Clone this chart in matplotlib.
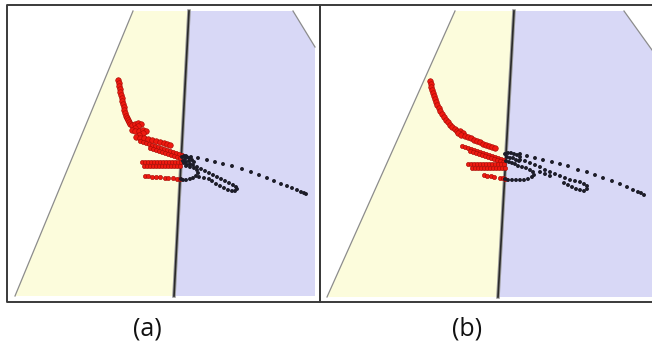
import matplotlib
matplotlib.use("Agg")
import matplotlib.pyplot as plt
from matplotlib.patches import Polygon

# panel captions
panel_labels = ["(a)", "(b)"]
label_pos = [(147, 329), (467, 329)]

# panel frames (x0, x1, y0, y1) in image pixels
frame_a = (7, 320, 5, 302)
frame_b = (320, 652, 5, 302)

# wall regions seen in each view
yellow_a = [(133, 11), (189, 11), (174, 296), (15, 296)]
lavender_a = [(189, 11), (293, 11), (315, 47), (315, 296), (174, 296)]
yellow_b = [(455, 11), (514, 11), (498, 297), (327, 297)]
lavender_b = [(514, 11), (624, 11), (652, 50), (652, 297), (498, 297)]

# ---------------- view (a) ----------------
red_a_upper_x = [118, 119, 119, 120, 120, 121, 122, 122, 123, 124, 124, 125, 126, 127, 128,
                 129, 130, 132, 135, 138, 141, 138, 135, 132, 135, 139, 143, 146, 143, 139,
                 136, 140, 144, 148, 152, 156, 160, 164, 167, 170]
red_a_upper_y = [80, 83, 86, 89, 92, 95, 98, 101, 104, 107, 110, 113, 116, 118, 120,
                 122, 124, 125, 124, 123, 124, 126, 128, 130, 131, 131, 130, 131, 133, 135,
                 137, 138, 138, 139, 140, 141, 142, 143, 144, 145]
red_a_diag_x = [140, 143, 146, 149, 152, 155, 158, 161, 164, 167, 170, 173, 176, 179, 182,
                150, 153, 156, 159, 162, 165, 168, 171, 174, 177, 180]
red_a_diag_y = [141, 142, 143, 144, 145, 146, 147, 148, 149, 150, 151, 152, 153, 154, 155,
                148, 149, 150, 151, 152, 153, 154, 155, 156, 157, 158]
red_a_rows_x = [142, 145, 148, 151, 154, 157, 160, 163, 166, 169, 172, 175, 178, 181,
                144, 147, 150, 153, 156, 159, 162, 165, 168, 171, 174, 177, 180]
red_a_rows_y = [162, 162, 162, 162, 162, 162, 162, 162, 162, 162, 162, 162, 162, 162,
                166, 166, 166, 166, 166, 166, 166, 166, 166, 166, 166, 166, 166]
red_a_bottom_x = [145, 148, 152, 156, 160, 165, 168, 173, 177, 180]
red_a_bottom_y = [176, 176, 177, 177, 177, 178, 178, 178, 179, 179]

black_a_far_x = [186, 191, 198, 207, 215, 223, 232, 242, 251, 259, 267, 274, 281, 287, 292,
                 297, 301, 304, 306]
black_a_far_y = [156, 157, 158, 160, 162, 164, 166, 169, 172, 175, 178, 181, 184, 186, 188,
                 190, 192, 193, 194]
black_a_loop_x = [182, 184, 187, 189, 185, 183, 186, 189, 192, 194, 190, 187, 184,
                  186, 190, 194, 197, 198, 196, 193, 190, 186, 183, 181,
                  193, 197, 201, 205, 209, 213, 217, 221, 225, 229, 233, 236, 237, 235,
                  232, 228, 224, 220, 216, 212, 199, 204, 209]
black_a_loop_y = [157, 156, 157, 158, 159, 161, 162, 161, 160, 162, 164, 165, 163,
                  166, 167, 168, 170, 173, 176, 178, 179, 180, 180, 179,
                  165, 167, 169, 171, 173, 175, 177, 179, 181, 183, 185, 187, 189, 191,
                  191, 190, 188, 186, 184, 181, 177, 178, 179]

# ---------------- view (b) ----------------
red_b_upper_x = [430, 431, 431, 432, 433, 434, 435, 436, 437, 439, 440, 442, 444, 446, 448,
                 450, 452, 455, 457, 460, 463, 458, 461, 465, 468, 471, 474, 477, 480, 483,
                 486, 489, 492, 495]
red_b_upper_y = [81, 84, 87, 90, 93, 96, 99, 102, 105, 108, 111, 114, 117, 120, 122,
                 125, 127, 129, 131, 131, 133, 133, 135, 136, 137, 138, 140, 141, 142, 144,
                 145, 146, 147, 148]
red_b_diag_x = [462, 465, 468, 471, 474, 477, 480, 483, 486, 489, 492, 495, 498, 501, 504,
                470, 473, 476, 479, 482, 485, 488, 491, 494, 497, 500, 503]
red_b_diag_y = [146, 147, 148, 149, 150, 151, 152, 153, 154, 155, 156, 157, 158, 159, 160,
                151, 152, 153, 154, 155, 156, 157, 158, 159, 160, 161, 162]
red_b_rows_x = [468, 471, 474, 477, 480, 483, 486, 489, 492, 495, 498, 501, 504,
                472, 475, 478, 481, 484, 487, 490, 493, 496, 499, 502, 505]
red_b_rows_y = [164, 164, 164, 164, 164, 164, 164, 164, 164, 164, 164, 164, 164,
                168, 168, 168, 168, 168, 168, 168, 168, 168, 168, 168, 168]
red_b_bottom_x = [484, 487, 491, 494, 500, 503, 505]
red_b_bottom_y = [175, 176, 176, 177, 178, 178, 179]

black_b_far_x = [520, 527, 535, 543, 552, 560, 568, 578, 587, 595, 603, 612, 620, 627, 633,
                 638, 641, 644]
black_b_far_y = [154, 156, 158, 160, 162, 164, 166, 170, 172, 175, 178, 181, 184, 187, 190,
                 192, 193, 195]
black_b_loop_x = [505, 508, 511, 514, 517, 520, 507, 510, 513, 516, 519, 506, 509, 512, 515,
                  518, 522, 526, 530, 533, 534, 532, 528, 524, 520, 516, 512, 508, 505,
                  520, 525, 530, 535, 540, 545, 550, 555, 560, 565, 570, 575, 580, 584,
                  587, 587, 584, 580, 576, 572, 568, 564, 540, 545, 550]
black_b_loop_y = [154, 153, 153, 154, 155, 157, 157, 158, 158, 160, 161, 161, 162, 163, 164,
                  166, 167, 168, 170, 172, 175, 177, 179, 180, 180, 180, 180, 180, 179,
                  160, 161, 163, 165, 167, 170, 172, 174, 176, 178, 180, 181, 182, 184,
                  186, 189, 191, 190, 189, 187, 185, 183, 172, 174, 176]

YELLOW = "#fcfcdc"
LAVENDER = "#d8d8f6"
RED = "#ee1a10"
DARK = "#1c1c28"


def draw_frame(ax, fr, right=True):
    x0, x1, y0, y1 = fr
    xs = [x1, x0, x0, x1] if not right else [x1, x0, x0, x1, x1]
    ys = [y0, y0, y1, y1] if not right else [y0, y0, y1, y1, y0]
    ax.plot(xs, ys, color="#3a3a3a", lw=1.4, zorder=10, solid_capstyle="butt")


def draw_walls(ax, yellow, lavender):
    ax.add_patch(Polygon(yellow, closed=True, fc=YELLOW, ec="none", zorder=1))
    ax.add_patch(Polygon(lavender, closed=True, fc=LAVENDER, ec="none", zorder=1))
    # outer edge of the yellow wall
    ax.plot([yellow[0][0], yellow[3][0]], [yellow[0][1], yellow[3][1]],
            color="#8c8c8c", lw=0.9, zorder=2)
    # slanted top corner of the lavender wall
    ax.plot([lavender[1][0], lavender[2][0]], [lavender[1][1], lavender[2][1]],
            color="#8c8c8c", lw=0.9, zorder=2)
    # the seam between the two walls
    ax.plot([yellow[1][0], yellow[2][0]], [yellow[1][1], yellow[2][1]],
            color="#9a9a9a", lw=2.6, zorder=2)
    ax.plot([yellow[1][0], yellow[2][0]], [yellow[1][1], yellow[2][1]],
            color="#2a2a2a", lw=1.2, zorder=3)


fig = plt.figure(figsize=(6.52, 3.5), dpi=100)
ax = fig.add_axes([0, 0, 1, 1])
ax.set_xlim(0, 652)
ax.set_ylim(350, 0)
ax.axis("off")

draw_walls(ax, yellow_a, lavender_a)
draw_walls(ax, yellow_b, lavender_b)

# red trails (sensor side) and black trails (far side)
for xs, ys, s in [(red_a_upper_x, red_a_upper_y, 16), (red_a_diag_x, red_a_diag_y, 9),
                  (red_a_rows_x, red_a_rows_y, 9), (red_a_bottom_x, red_a_bottom_y, 9),
                  (red_b_upper_x, red_b_upper_y, 16), (red_b_diag_x, red_b_diag_y, 9),
                  (red_b_rows_x, red_b_rows_y, 9), (red_b_bottom_x, red_b_bottom_y, 9)]:
    ax.scatter(xs, ys, s=s, c=RED, edgecolors="#a80a05", linewidths=0.45, zorder=5)

for xs, ys in [(black_a_far_x, black_a_far_y), (black_a_loop_x, black_a_loop_y),
               (black_b_far_x, black_b_far_y), (black_b_loop_x, black_b_loop_y)]:
    ax.scatter(xs, ys, s=8, c=DARK, edgecolors="none", zorder=6)

draw_frame(ax, frame_a)
draw_frame(ax, frame_b, right=False)

for lab, (x, y) in zip(panel_labels, label_pos):
    ax.text(x, y, lab, ha="center", va="center", fontsize=18,
            family=["Open Sans", "DejaVu Sans"], color="#111111")

fig.savefig("out.png", dpi=100)
